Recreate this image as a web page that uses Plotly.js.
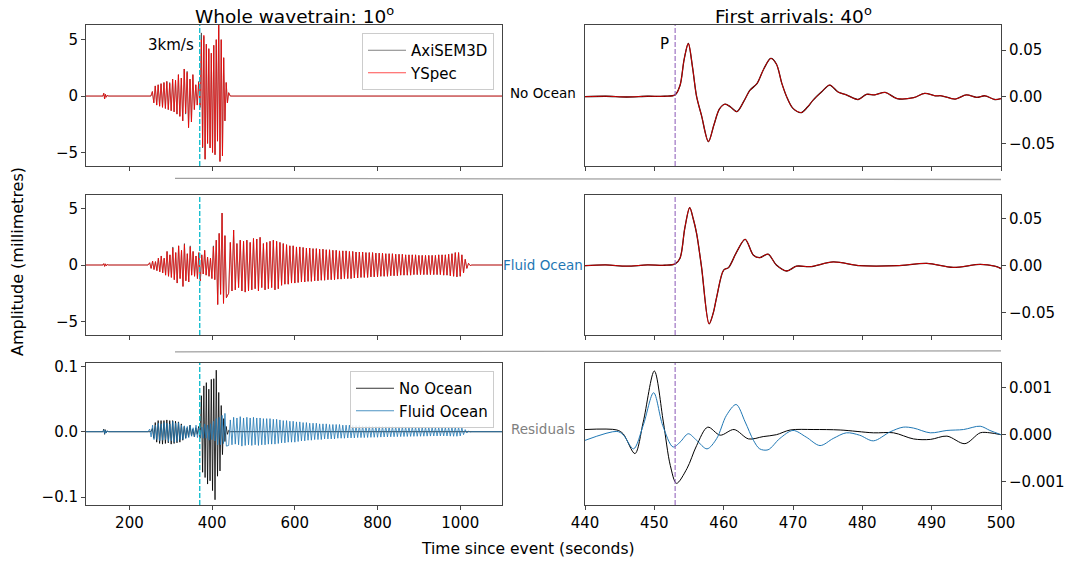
<!DOCTYPE html>
<html><head><meta charset="utf-8">
<script src="https://cdn.plot.ly/plotly-3.0.1.min.js"></script>
<style>html,body{margin:0;padding:0;background:#fff}#chart{width:1068px;height:565px}</style>
</head><body><div id="chart"></div>
<script>
// ---------------- DATA ----------------
// Whole wavetrain, 10 degrees, No Ocean (time in s, amplitude in mm)
const wholeTimeNoOcean = [95,136,138,140,142,144,146,150,252,
  255.5,259,262.5,266,269.5,273,276.5,280,283.5,287,290.5,294,297.5,301,304.5,308,311.5,315,318.5,322,
  325.5,329,332.5,336,339.5,343,346.5,350,353.5,357,360.5,364,367.5,371,
  374,377,380,383,386,389,392,395,398,401,404,407,410,413,416,419,422,425,428,431,434,437,440,
  444,1101];
const yspecNoOcean = [0,0,0.25,-0.25,0.15,-0.1,0.05,0,0,
  0.4,-0.6,0.9,-0.8,1.0,-0.9,1.1,-1.0,1.2,-1.1,1.3,-1.2,1.1,-1.3,1.5,-1.4,1.4,-1.6,1.9,-1.8,
  1.6,-2.2,2.4,-1.5,2.1,-2.8,1.5,-2.3,1.9,-1.2,1.0,-0.8,1.2,-1.0,
  5.0,-4.5,5.4,-5.6,4.6,-4.2,4.2,-4.6,3.8,-5.0,4.5,-5.2,5.0,-4.0,6.8,-5.8,5.0,-5.3,3.4,-2.2,1.2,-0.6,0.3,
  0,0];
const axisemNoOcean = [0,0,0.25,-0.25,0.15,-0.1,0.05,0,0,
  0.4,-0.6,0.9,-0.8,1.0,-0.9,1.1,-1.0,1.2,-1.1,1.3,-1.2,1.2,-1.3,1.5,-1.4,1.4,-1.6,1.9,-1.8,
  1.6,-2.2,2.4,-1.6,2.2,-2.8,1.5,-2.3,1.9,-1.2,1.0,-0.8,1.3,-1.0,
  5.6,-4.6,5.3,-5.6,4.6,-4.2,4.2,-4.6,3.8,-5.0,4.5,-5.2,5.0,-4.0,6.8,-5.8,5.0,-5.3,3.4,-2.2,1.2,-0.6,0.3,
  0,0];
const residNoOcean = [0,0,0.004,-0.004,0.003,-0.002,0.001,0,0,
  0.005,-0.01,0.014,-0.016,0.017,-0.018,0.017,-0.019,0.017,-0.018,0.018,-0.017,0.017,-0.019,0.017,-0.018,0.016,-0.017,0.015,-0.016,
  0.012,-0.013,0.008,-0.01,0.006,-0.008,0.01,-0.006,0.004,-0.008,0.006,-0.004,0.008,-0.01,
  0.055,-0.062,0.07,-0.07,0.075,-0.08,0.065,-0.075,0.08,-0.09,0.081,-0.104,0.094,-0.068,0.06,-0.06,0.04,-0.035,0.02,-0.015,0.008,-0.004,0.002,
  0,0];

// Whole wavetrain, Fluid Ocean
const fluidTimeEarly = [95,136,138,140,142,144,146,150,245,
  249,252.5,256,259.5,263,266.5,270,273.5,277,280.5,284,287.5,291,294.5,298,301.5,305,308.5,312,315.5,
  319,322.5,326,329.5,333,336.5,340,343.5,347,350.5,354,357.5,361,364.5,368,371.5,375,378.5,382,385.5,
  389,392.5,396,399.5,403,406.5,410,413.5,417,420.5,424,427.5,431,434.5];
const fluidTimeCoda = [
  440,444,448,452,456,460,464,468,472,476,480,484,488,492,496,500,504,508,512,516,520,524,528,532,536,
  540,544,548,552,556,560,564,568,572,576,580,584,588,592,596,600,604,608,612,616,620,624,628,632,636,
  640,644,648,652,656,660,664,668,672,676,680,684,688,692,696,700,704,708,712,716,720,724,728,732,736,
  740,744,748,752,756,760,764,768,772,776,780,784,788,792,796,800,804,808,812,816,820,824,828,832,836,
  840,844,848,852,856,860,864,868,872,876,880,884,888,892,896,900,904,908,912,916,920,924,928,932,936,
  940,944,948,952,956,960,964,968,972,976,980,984,988,992,996,1000,1004,1008,1012,1016,1020,1024,1028,
  1101];
const yspecFluidEarly = [0,0,0.12,-0.12,0.1,-0.08,0.04,0,0,
  0.2,-0.3,0.35,-0.4,0.3,-0.5,0.6,-0.6,0.8,-0.7,0.6,-0.9,1.2,-1.0,0.9,-1.1,1.5,-1.3,1.1,-1.6,
  1.7,-1.2,1.3,-1.9,1.8,-1.4,1.0,-1.5,1.6,-0.9,1.2,-1.0,0.8,-1.2,1.1,-1.4,0.9,-0.8,1.3,-0.9,
  0.7,-1.0,0.6,-1.2,1.6,-1.3,2.2,-3.5,2.8,-2.6,4.6,-3.4,2.6,-2.9];
const axisemFluidEarly = [0,0,0.12,-0.12,0.1,-0.08,0.04,0,0,
  0.2,-0.3,0.35,-0.4,0.3,-0.5,0.6,-0.6,0.8,-0.7,0.6,-0.9,1.2,-1.0,0.9,-1.1,1.6,-1.3,1.1,-1.6,
  1.7,-1.2,1.3,-1.9,1.9,-1.4,1.0,-1.5,1.7,-0.9,1.2,-1.0,0.8,-1.2,1.1,-1.4,0.9,-0.8,1.3,-0.9,
  0.7,-1.0,0.6,-1.2,1.7,-1.3,2.2,-3.5,2.8,-2.6,4.6,-3.4,2.6,-2.9];
const yspecFluidCoda = [
  -2.5,2.0,-2.3,3.1,-2.2,1.9,-2.0,2.2,-2.3,2.1,-2.4,2.2,-2.3,2.0,-2.2,2.35,-2.1,2.3,-2.3,2.45,-2.0,1.9,-2.2,2.0,-2.1,
  2.1,-2.0,2.2,-2.2,2.1,-2.1,2.0,-1.8,1.9,-1.7,1.8,-1.7,1.7,-1.6,1.7,-1.6,1.6,-1.55,1.6,-1.5,1.55,-1.5,1.5,-1.45,1.5,
  -1.45,1.45,-1.4,1.45,-1.4,1.4,-1.35,1.4,-1.35,1.35,-1.3,1.35,-1.3,1.3,-1.3,1.3,-1.25,1.25,-1.25,1.25,-1.2,1.25,-1.2,1.2,-1.2,
  1.2,-1.15,1.15,-1.15,1.15,-1.1,1.15,-1.1,1.1,-1.1,1.1,-1.05,1.1,-1.05,1.05,-1.05,1.05,-1.0,1.05,-1.0,1.0,-1.0,1.0,-0.95,1.0,
  -0.95,0.95,-0.95,0.95,-0.9,0.95,-0.9,0.9,-0.9,0.9,-0.9,0.9,-0.85,0.9,-0.85,0.85,-0.85,0.85,-0.85,0.85,-0.85,0.85,-0.85,0.85,-0.85,
  0.85,-0.85,0.9,-0.85,0.9,-0.9,0.9,-0.9,0.95,-0.95,1.0,-1.0,1.1,-1.05,1.1,-1.0,0.9,-0.7,0.5,-0.3,0.15,-0.05,0,
  0];
const residFluidEarly = [0,0,0.003,-0.003,0.002,-0.002,0.001,0,0,
  0.004,-0.008,0.01,-0.012,0.01,-0.012,0.013,-0.014,0.012,-0.013,0.014,-0.012,0.013,-0.015,0.012,-0.014,0.016,-0.016,0.013,-0.015,
  0.014,-0.012,0.01,-0.012,0.009,-0.01,0.008,-0.009,0.01,-0.007,0.006,-0.008,0.01,-0.009,0.006,-0.008,0.007,-0.01,0.012,-0.01,
  0.01,-0.013,0.012,-0.012,0.016,-0.014,0.02,-0.02,0.022,-0.02,0.025,-0.018,0.028,-0.022];
const residFluidCoda = [
  -0.021,0.018,-0.02,0.022,-0.019,0.021,-0.02,0.023,-0.022,0.021,-0.021,0.022,-0.02,0.021,-0.021,0.022,-0.02,0.021,-0.021,0.021,-0.02,0.02,-0.02,0.02,-0.019,
  0.02,-0.019,0.019,-0.019,0.019,-0.018,0.018,-0.017,0.017,-0.017,0.017,-0.016,0.016,-0.016,0.016,-0.016,0.015,-0.015,0.015,-0.014,0.014,-0.014,0.014,-0.013,0.013,
  -0.013,0.013,-0.012,0.013,-0.012,0.012,-0.012,0.012,-0.011,0.012,-0.011,0.011,-0.011,0.011,-0.011,0.011,-0.01,0.011,-0.01,0.01,-0.01,0.01,-0.0095,0.01,-0.0095,
  0.0095,-0.0095,0.0095,-0.009,0.0095,-0.009,0.009,-0.009,0.009,-0.0088,0.009,-0.0086,0.0088,-0.0085,0.0086,-0.0085,0.0085,-0.0082,0.0084,-0.008,0.0082,-0.008,0.008,-0.0078,0.008,
  -0.0077,0.0078,-0.0076,0.0077,-0.0075,0.0076,-0.0074,0.0075,-0.0073,0.0074,-0.0072,0.0073,-0.0071,0.0072,-0.007,0.0071,-0.007,0.007,-0.0069,0.007,-0.0068,0.0069,-0.0067,0.0068,-0.0066,
  0.0067,-0.0066,0.0066,-0.0065,0.0066,-0.0065,0.0066,-0.0066,0.0068,-0.0068,0.007,-0.007,0.0072,-0.007,0.007,-0.0065,0.0058,-0.0045,0.0032,-0.002,0.001,-0.0004,0,
  0];

// First arrivals, 40 degrees
const firstTimeNoOcean = [440,443,446,449,451.5,453,453.7,454.3,454.9,455.5,456.1,456.8,457.8,458.6,459.4,
  460.2,461.0,461.9,462.9,463.8,464.8,465.8,466.8,467.6,468.4,469.2,470,471.2,472.1,472.9,
  474.1,475.3,476.5,477.7,479.4,480.6,481.8,483.3,485,487.4,489,490.5,491.4,493.4,495,496.5,497.7,499.1,500];
const firstNoOcean = [0,0.0005,-0.0003,0.0005,0.0005,0.002,0.012,0.04,0.057,0.032,0.0,-0.02,-0.048,-0.03,-0.013,
  -0.008,-0.011,-0.016,-0.005,0.007,0.014,0.03,0.041,0.035,0.014,-0.002,-0.0125,-0.017,-0.011,-0.0036,
  0.005,0.0125,0.005,0.002,-0.003,0.0025,0.002,0.0046,-0.002,-0.001,0.0036,0.001,0.001,-0.0025,0.002,-0.0007,0.001,-0.003,-0.002];
const firstTimeFluid = [440,443,446,449,451.5,453,453.7,454.4,455.1,455.6,456.1,456.8,457.9,458.5,459,
  460,460.7,461.9,463.1,464.3,465.2,466.4,467.6,469.1,470.5,472.5,475.8,479.7,485,489.3,493.1,497,499.1,500];
const firstFluid = [0,0.0008,-0.0005,0.0008,0.0005,0.002,0.008,0.04,0.0616,0.05,0.034,-0.001,-0.0616,-0.05,-0.033,
  -0.0046,-0.002,0.015,0.028,0.011,0.0085,0.0123,0.0007,-0.0056,-0.0005,-0.001,0.004,0,0,0.0025,-0.0018,0.0014,-0.0005,-0.003];
const firstTimeResidNo = [440,444.6,445.5,447.2,448.4,450,451.3,452.3,453.2,454.7,456.1,457.7,459.5,461.5,463.6,
  465.7,467.6,469.6,472.9,476.8,481.6,484.5,487.4,489.8,492.2,494.8,497,498.4,500];
const firstResidNo = [0.00011,0.0001,0.00002,-0.0004,0.00027,0.00135,0.00027,-0.00065,-0.00103,-0.00072,-0.00023,0.00016,-0.00001,0.00011,-0.00009,
  -0.00004,0.0,0.0001,0.00011,0.0001,0.00004,0.00004,-0.00009,-0.0001,-0.00003,-0.00019,0.00004,0.00004,0];
const firstTimeResidFluid = [440,444.6,445.5,447,448.4,449.9,451.2,452.7,453.7,454.9,456.1,457.6,459,460.4,461.8,
  463.1,464.3,465.2,466.4,468.1,470,471.9,473.9,475.8,477.7,479.6,481.6,484,485.9,487.4,489.8,492.2,494.6,497,498.4,500];
const firstResidFluid = [-0.00012,0.00007,0.0,-0.0003,0.0002,0.00089,0.0002,-0.00026,-0.00016,0.00002,-0.00012,-0.0003,-0.00008,0.00041,0.00064,
  0.00027,-0.00012,-0.0003,-0.00032,-0.00008,0.00009,-0.00005,-0.00023,-0.00008,0.00004,-0.00001,-0.00013,0.00006,0.00016,0.00014,
  0.00004,0.00009,0.00011,0.00018,0.00009,0];

// Text
const wholeTitle = 'Whole wavetrain: 10<sup>o</sup>';
const firstTitle = 'First arrivals: 40<sup>o</sup>';
const rowLabels = ['No Ocean', 'Fluid Ocean', 'Residuals'];
const surfaceWaveTime = 370;   // 3 km/s marker
const pArrivalTime = 453;      // P marker

// ---------------- FIGURE ----------------
const W = 1068, H = 565;
const fx = p => p / W, fy = p => 1 - p / H;
const FONT = 'DejaVu Sans, Liberation Sans, sans-serif';
const AX = '#444';

const fluidTime = fluidTimeEarly.concat(fluidTimeCoda);
const yspecFluid = yspecFluidEarly.concat(yspecFluidCoda);
const axisemFluid = axisemFluidEarly.concat(yspecFluidCoda);
const residFluid = residFluidEarly.concat(residFluidCoda);

const BLACK = '#000000', RED = '#ff0000', BLUE = '#1f77b4';
function tr(x, y, xa, ya, color, width, name, legend, shape) {
  return {type: 'scatter', mode: 'lines', x: x, y: y, xaxis: xa, yaxis: ya,
    line: {color: color, width: width, shape: shape || 'linear', smoothing: 0.9},
    name: name || '', showlegend: !!legend, legend: legend || 'legend', hoverinfo: 'skip'};
}
const traces = [
  tr(wholeTimeNoOcean, axisemNoOcean, 'x', 'y', BLACK, 0.5, 'AxiSEM3D', 'legend'),
  tr(wholeTimeNoOcean, yspecNoOcean, 'x', 'y', RED, 0.7, 'YSpec', 'legend'),
  tr(firstTimeNoOcean, firstNoOcean, 'x2', 'y2', BLACK, 1.3, '', null, 'spline'),
  tr(firstTimeNoOcean, firstNoOcean, 'x2', 'y2', RED, 0.8, '', null, 'spline'),
  tr(fluidTime, axisemFluid, 'x3', 'y3', BLACK, 0.5),
  tr(fluidTime, yspecFluid, 'x3', 'y3', RED, 0.7),
  tr(firstTimeFluid, firstFluid, 'x4', 'y4', BLACK, 1.3, '', null, 'spline'),
  tr(firstTimeFluid, firstFluid, 'x4', 'y4', RED, 0.8, '', null, 'spline'),
  tr(wholeTimeNoOcean, residNoOcean, 'x5', 'y5', BLACK, 0.8, 'No Ocean', 'legend2'),
  tr(fluidTime, residFluid, 'x5', 'y5', BLUE, 0.8, 'Fluid Ocean', 'legend2'),
  tr(firstTimeResidNo, firstResidNo, 'x6', 'y6', BLACK, 1.0, '', null, 'spline'),
  tr(firstTimeResidFluid, firstResidFluid, 'x6', 'y6', BLUE, 1.0, '', null, 'spline')
];

const colL = [fx(86), fx(502)], colR = [fx(585), fx(1001)];
const row1 = [fy(166), fy(25)], row2 = [fy(335), fy(195)], row3 = [fy(505), fy(363)];
function axis(extra) {
  return Object.assign({showline: true, mirror: true, linecolor: AX, linewidth: 1,
    ticks: 'outside', ticklen: 4, tickwidth: 1, tickcolor: AX, showgrid: false, zeroline: false,
    tickfont: {size: 15, color: '#000', family: FONT}, automargin: false, fixedrange: true}, extra);
}
const leftX = {range: [95, 1101], tickvals: [200, 400, 600, 800, 1000]};
const rightX = {range: [440, 500], tickvals: [440, 450, 460, 470, 480, 490, 500]};

const layout = {
  width: W, height: H, margin: {l: 0, r: 0, t: 0, b: 0},
  paper_bgcolor: '#fff', plot_bgcolor: '#fff',
  font: {family: FONT, color: '#000'},
  xaxis:  axis(Object.assign({domain: colL, anchor: 'y', showticklabels: false}, leftX)),
  xaxis2: axis(Object.assign({domain: colR, anchor: 'y2', showticklabels: false}, rightX)),
  xaxis3: axis(Object.assign({domain: colL, anchor: 'y3', showticklabels: false}, leftX)),
  xaxis4: axis(Object.assign({domain: colR, anchor: 'y4', showticklabels: false}, rightX)),
  xaxis5: axis(Object.assign({domain: colL, anchor: 'y5'}, leftX)),
  xaxis6: axis(Object.assign({domain: colR, anchor: 'y6'}, rightX)),
  yaxis:  axis({domain: row1, anchor: 'x', range: [-6.2, 6.3], tickvals: [-5, 0, 5]}),
  yaxis2: axis({domain: row1, anchor: 'x2', side: 'right', range: [-0.0742, 0.0768], tickvals: [-0.05, 0, 0.05], tickformat: '.2f'}),
  yaxis3: axis({domain: row2, anchor: 'x3', range: [-6.2, 6.2], tickvals: [-5, 0, 5]}),
  yaxis4: axis({domain: row2, anchor: 'x4', side: 'right', range: [-0.0734, 0.0749], tickvals: [-0.05, 0, 0.05], tickformat: '.2f'}),
  yaxis5: axis({domain: row3, anchor: 'x5', range: [-0.112, 0.105], tickvals: [-0.1, 0, 0.1], tickformat: '.1f'}),
  yaxis6: axis({domain: row3, anchor: 'x6', side: 'right', range: [-0.00149, 0.00152], tickvals: [-0.001, 0, 0.001], tickformat: '.3f'}),
  legend: {x: fx(494), xanchor: 'right', y: fy(33), yanchor: 'top', bgcolor: 'rgba(255,255,255,0.85)',
    bordercolor: '#cccccc', borderwidth: 1, font: {size: 15, family: FONT}, itemwidth: 38},
  legend2: {x: fx(494), xanchor: 'right', y: fy(371), yanchor: 'top', bgcolor: 'rgba(255,255,255,0.85)',
    bordercolor: '#cccccc', borderwidth: 1, font: {size: 15, family: FONT}, itemwidth: 38},
  shapes: [],
  annotations: []
};

['x', 'x3', 'x5'].forEach((xa, i) => {
  const ya = ['y', 'y3', 'y5'][i];
  layout.shapes.push({type: 'line', xref: xa, yref: ya + ' domain', x0: surfaceWaveTime, x1: surfaceWaveTime, y0: 0, y1: 1,
    line: {color: '#17becf', width: 1.4, dash: '5px,2px'}});
});
['x2', 'x4', 'x6'].forEach((xa, i) => {
  const ya = ['y2', 'y4', 'y6'][i];
  layout.shapes.push({type: 'line', xref: xa, yref: ya + ' domain', x0: pArrivalTime, x1: pArrivalTime, y0: 0, y1: 1,
    line: {color: '#9467bd', width: 1.1, dash: '5px,2px'}});
});
layout.shapes.push({type: 'line', xref: 'paper', yref: 'paper', x0: fx(175), x1: fx(1001), y0: fy(178.3), y1: fy(179.5),
  line: {color: '#a0a0a0', width: 1.3}});
layout.shapes.push({type: 'line', xref: 'paper', yref: 'paper', x0: fx(175), x1: fx(1001), y0: fy(351.8), y1: fy(350.8),
  line: {color: '#a0a0a0', width: 1.3}});

function ann(text, x, y, opts) {
  return Object.assign({text: text, x: x, y: y, xref: 'paper', yref: 'paper', showarrow: false,
    xanchor: 'center', yanchor: 'middle', font: {size: 15, family: FONT, color: '#000'}}, opts || {});
}
layout.annotations.push(
  ann(wholeTitle, fx(294), fy(15), {font: {size: 18.5, family: FONT, color: '#000'}}),
  ann(firstTitle, fx(793), fy(15), {font: {size: 18.5, family: FONT, color: '#000'}}),
  ann('3km/s', surfaceWaveTime, fy(45), {xref: 'x', xanchor: 'right', xshift: -4}),
  ann('P', pArrivalTime, fy(44), {xref: 'x2', xanchor: 'right', xshift: -4}),
  ann(rowLabels[0], fx(543), fy(93), {font: {size: 13.5, family: FONT, color: '#000'}}),
  ann(rowLabels[1], fx(543), fy(265), {font: {size: 13.5, family: FONT, color: BLUE}}),
  ann(rowLabels[2], fx(543), fy(429), {font: {size: 13.5, family: FONT, color: '#808080'}}),
  ann('Amplitude (millimetres)', fx(17), fy(262), {textangle: -90, font: {size: 16, family: FONT, color: '#000'}}),
  ann('Time since event (seconds)', fx(528), fy(549), {font: {size: 15.5, family: FONT, color: '#000'}})
);

Plotly.newPlot('chart', traces, layout, {staticPlot: true, displayModeBar: false});
</script></body></html>
